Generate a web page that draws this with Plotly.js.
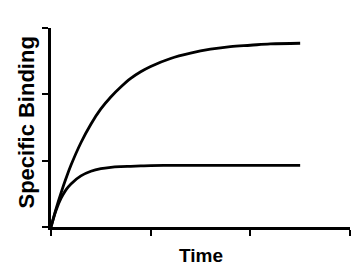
<!DOCTYPE html>
<html><head><meta charset="utf-8">
<script src="https://cdn.plot.ly/plotly-3.0.1.min.js"></script>
<style>html,body{margin:0;padding:0;background:#fff;}#chart{width:360px;height:274px;}</style>
</head><body><div id="chart"></div>
<script>
var time = [0, 0.05, 0.1, 0.15, 0.2, 0.3, 0.4, 0.5, 0.6, 0.7, 0.8, 0.9, 1.0, 1.2, 1.4, 1.6, 1.8, 2.0, 2.2, 2.5];
var upperBinding = [0, 0.27, 0.51, 0.73, 0.93, 1.27, 1.55, 1.78, 1.96, 2.11, 2.24, 2.34, 2.42, 2.54, 2.62, 2.68, 2.72, 2.74, 2.76, 2.77];
var lowerBinding = [0, 0.25, 0.43, 0.56, 0.65, 0.77, 0.84, 0.88, 0.90, 0.91, 0.915, 0.92, 0.925, 0.93, 0.93, 0.93, 0.93, 0.93, 0.93, 0.93];
var xTicks = [0, 1, 2, 3];
var yTicks = [0, 1, 2, 3];
var xTitle = "Time";
var yTitle = "Specific Binding";

var traces = [
  {x: time, y: upperBinding, mode: 'lines', line: {color: '#000', width: 2.8, shape: 'spline'}, hoverinfo: 'skip'},
  {x: time, y: lowerBinding, mode: 'lines', line: {color: '#000', width: 2.8, shape: 'spline'}, hoverinfo: 'skip'}
];
var layout = {
  width: 360, height: 274,
  margin: {l: 51, r: 10, t: 28, b: 47, pad: 0},
  paper_bgcolor: '#fff', plot_bgcolor: '#fff',
  showlegend: false,
  font: {family: 'Liberation Sans, Arial, sans-serif', color: '#000'},
  xaxis: {range: [0, 3], tickvals: xTicks, showticklabels: false, ticks: 'outside', ticklen: 6, tickwidth: 2, tickcolor: '#000',
          showline: true, linewidth: 3, linecolor: '#000', showgrid: false, zeroline: false, fixedrange: true},
  yaxis: {range: [0, 3], tickvals: yTicks, showticklabels: false, ticks: 'outside', ticklen: 6, tickwidth: 2, tickcolor: '#000',
          showline: true, linewidth: 3, linecolor: '#000', showgrid: false, zeroline: false, fixedrange: true},
  annotations: [
    {text: '<b>' + xTitle + '</b>', xref: 'paper', yref: 'paper', x: 0.5, y: 0, yshift: -28, xanchor: 'center', yanchor: 'middle', showarrow: false, font: {size: 19, color: '#000'}},
    {text: '<b>' + yTitle + '</b>', xref: 'paper', yref: 'paper', x: 0, y: 0.5, xshift: -25, yshift: 5, xanchor: 'center', yanchor: 'middle', textangle: -90, showarrow: false, font: {size: 22, color: '#000'}}
  ]
};
Plotly.newPlot('chart', traces, layout, {staticPlot: true, displayModeBar: false});
</script></body></html>
